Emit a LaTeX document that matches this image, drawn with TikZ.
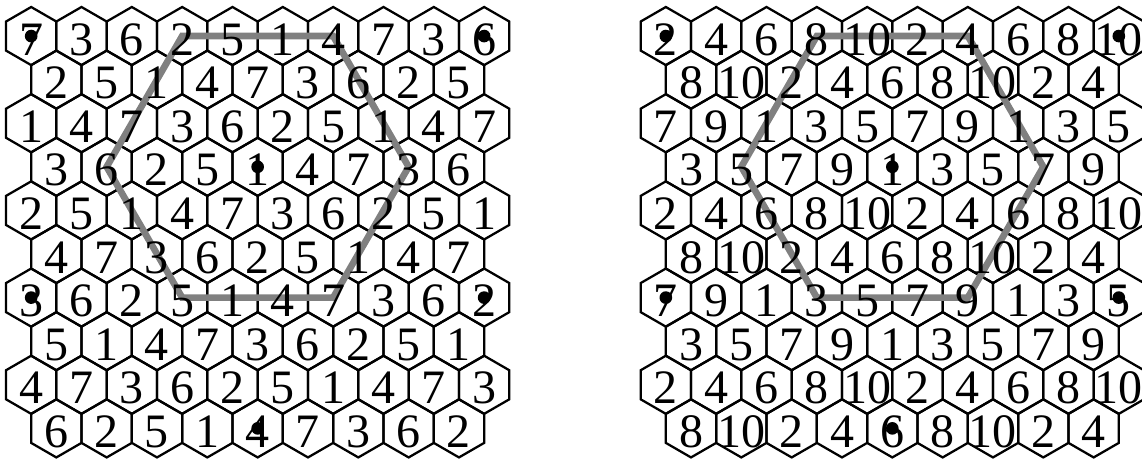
\documentclass[tikz,border=0pt]{standalone}
\usepackage{fontspec}
\setmainfont{Liberation Serif}
\usetikzlibrary{shapes.geometric}
\pgfdeclarelayer{hexlayer}
\pgfdeclarelayer{greylayer}
\pgfsetlayers{hexlayer,greylayer,main}
\tikzset{
  hexcell/.style={regular polygon, regular polygon sides=6, shape border rotate=30,
    minimum size=43.59pt, inner sep=0pt, outer sep=0pt, draw=black, line width=1.7pt},
  num/.style={font=\fontsize{36}{40}\selectfont, inner sep=0pt, anchor=base},
  dotmark/.style={circle, fill=black, minimum size=9.5pt, inner sep=0pt},
  greyline/.style={draw=gray, line width=5pt}
}
\newcommand\hexgrid[3]{%
  \foreach \rowdata [count=\ri from 0] in {#3} {
    \foreach \v [count=\ci from 0] in \rowdata {
      \pgfmathsetmacro\px{31.17 + \ci*50.33 + mod(\ri,2)*25.165 + #2}
      \pgfmathsetmacro\py{36.06 + \ri*43.59}
      \begin{pgfonlayer}{hexlayer}
        \node[hexcell] (#1-\ri-\ci) at (\px,\py) {};
      \end{pgfonlayer}
      \node[num] (#1t-\ri-\ci) at (\px,\py+19) {\v};
    }
  }%
}
\begin{document}
\begin{tikzpicture}[x=0.75pt,y=-0.75pt]
\useasboundingbox (0,0) rectangle (1142,460);
\hexgrid{L}{0}{{7,3,6,2,5,1,4,7,3,6},{2,5,1,4,7,3,6,2,5},{1,4,7,3,6,2,5,1,4,7},{3,6,2,5,1,4,7,3,6},{2,5,1,4,7,3,6,2,5,1},{4,7,3,6,2,5,1,4,7},{3,6,2,5,1,4,7,3,6,2},{5,1,4,7,3,6,2,5,1},{4,7,3,6,2,5,1,4,7,3},{6,2,5,1,4,7,3,6,2}}
\hexgrid{R}{634.67}{{2,4,6,8,10,2,4,6,8,10},{8,10,2,4,6,8,10,2,4},{7,9,1,3,5,7,9,1,3,5},{3,5,7,9,1,3,5,7,9},{2,4,6,8,10,2,4,6,8,10},{8,10,2,4,6,8,10,2,4},{7,9,1,3,5,7,9,1,3,5},{3,5,7,9,1,3,5,7,9},{2,4,6,8,10,2,4,6,8,10},{8,10,2,4,6,8,10,2,4}}
\begin{pgfonlayer}{greylayer}
  \draw[greyline] (L-0-3.center) -- (L-0-6.center) -- (L-3-7.center) -- (L-6-6.center) -- (L-6-3.center) -- (L-3-1.center) -- cycle;
  \draw[greyline] (R-0-3.center) -- (R-0-6.center) -- (R-3-7.center) -- (R-6-6.center) -- (R-6-3.center) -- (R-3-1.center) -- cycle;
\end{pgfonlayer}
\foreach \g in {L,R} {
  \node[dotmark] (\g d1) at (\g-0-0.center) {};
  \node[dotmark] (\g d2) at (\g-0-9.center) {};
  \node[dotmark] (\g d3) at (\g-3-4.center) {};
  \node[dotmark] (\g d4) at (\g-6-0.center) {};
  \node[dotmark] (\g d5) at (\g-6-9.center) {};
  \node[dotmark] (\g d6) at (\g-9-4.center) {};
}
\end{tikzpicture}
\end{document}
